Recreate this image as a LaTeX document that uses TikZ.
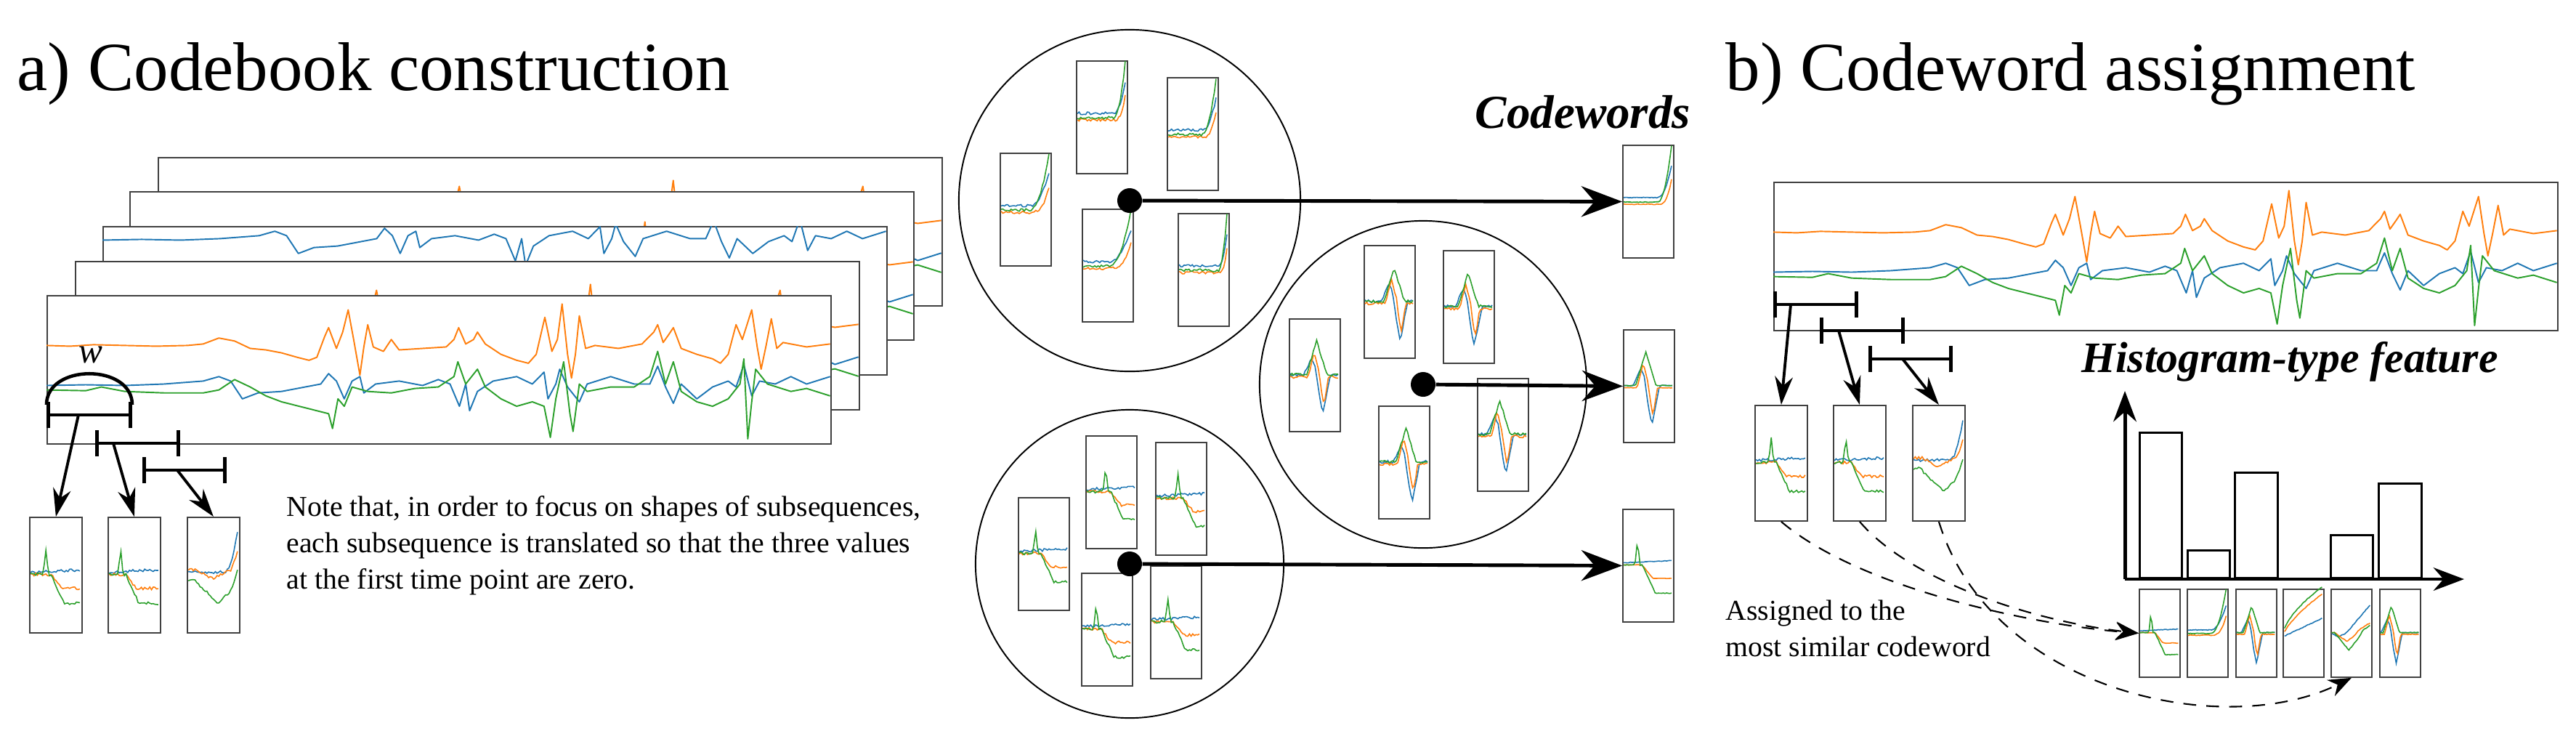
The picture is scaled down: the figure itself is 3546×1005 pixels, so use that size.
\documentclass[tikz,border=0pt]{standalone}
\usepackage{fontspec}
\setmainfont{Liberation Serif}
\usetikzlibrary{arrows.meta}
\definecolor{cB}{HTML}{1F77B4}
\definecolor{cO}{HTML}{FF7F0E}
\definecolor{cG}{HTML}{2CA02C}
\def\nz{0.012}
\def\lsO{(0,0.34)(0.03,0.345)(0.06,0.335)(0.1,0.34)(0.14,0.345)(0.18,0.34)(0.2,0.33)(0.22,0.29)(0.24,0.31)(0.26,0.36)(0.28,0.37)(0.3,0.39)(0.32,0.42)(0.335,0.44)(0.345,0.42)(0.355,0.28)(0.36,0.22)(0.37,0.36)(0.378,0.25)(0.385,0.1)(0.392,0.3)(0.4,0.54)(0.405,0.35)(0.41,0.2)(0.417,0.35)(0.43,0.38)(0.44,0.3)(0.45,0.37)(0.48,0.36)(0.51,0.35)(0.52,0.3)(0.526,0.22)(0.535,0.33)(0.545,0.3)(0.55,0.25)(0.56,0.33)(0.58,0.4)(0.6,0.44)(0.615,0.46)(0.625,0.4)(0.636,0.15)(0.645,0.38)(0.652,0.3)(0.658,0.06)(0.665,0.4)(0.67,0.56)(0.675,0.4)(0.68,0.14)(0.688,0.36)(0.7,0.34)(0.73,0.36)(0.76,0.33)(0.775,0.25)(0.78,0.2)(0.787,0.32)(0.795,0.26)(0.8,0.22)(0.81,0.36)(0.83,0.4)(0.85,0.43)(0.86,0.46)(0.87,0.4)(0.88,0.2)(0.888,0.3)(0.9,0.1)(0.907,0.35)(0.912,0.5)(0.918,0.35)(0.925,0.16)(0.932,0.36)(0.94,0.32)(0.97,0.35)(1,0.33)}
\def\lsB{(0,0.61)(0.05,0.605)(0.1,0.61)(0.15,0.6)(0.2,0.58)(0.22,0.55)(0.235,0.58)(0.25,0.7)(0.27,0.66)(0.3,0.65)(0.33,0.62)(0.35,0.6)(0.36,0.53)(0.37,0.58)(0.38,0.7)(0.39,0.58)(0.4,0.55)(0.405,0.66)(0.42,0.6)(0.45,0.58)(0.48,0.61)(0.5,0.57)(0.515,0.6)(0.527,0.75)(0.535,0.6)(0.54,0.78)(0.55,0.65)(0.57,0.58)(0.6,0.55)(0.62,0.6)(0.635,0.52)(0.64,0.7)(0.65,0.6)(0.655,0.5)(0.665,0.62)(0.68,0.72)(0.69,0.6)(0.72,0.55)(0.75,0.6)(0.77,0.6)(0.78,0.48)(0.79,0.62)(0.8,0.73)(0.81,0.6)(0.83,0.7)(0.85,0.62)(0.87,0.58)(0.88,0.62)(0.89,0.47)(0.9,0.68)(0.91,0.58)(0.93,0.6)(0.95,0.55)(0.97,0.6)(1,0.55)}
\def\lsG{(0,0.64)(0.05,0.645)(0.07,0.62)(0.1,0.65)(0.15,0.66)(0.2,0.66)(0.22,0.64)(0.24,0.57)(0.26,0.62)(0.28,0.68)(0.3,0.72)(0.33,0.76)(0.36,0.8)(0.365,0.9)(0.372,0.7)(0.38,0.75)(0.39,0.62)(0.41,0.65)(0.44,0.66)(0.47,0.63)(0.5,0.62)(0.52,0.55)(0.525,0.45)(0.535,0.6)(0.55,0.5)(0.56,0.62)(0.58,0.7)(0.6,0.75)(0.62,0.72)(0.635,0.75)(0.643,0.96)(0.65,0.7)(0.66,0.45)(0.668,0.8)(0.672,0.92)(0.68,0.6)(0.69,0.65)(0.72,0.62)(0.75,0.62)(0.77,0.55)(0.78,0.38)(0.79,0.6)(0.8,0.45)(0.81,0.65)(0.83,0.72)(0.85,0.75)(0.87,0.7)(0.885,0.6)(0.89,0.43)(0.895,0.97)(0.9,0.72)(0.905,0.5)(0.92,0.6)(0.95,0.65)(0.97,0.63)(1,0.68)}
\newcommand\sgA[1]{%
 \draw[cB,sl] plot (\x,{0.47-0.28*max(0,(\x-#1)/(0.97-#1))^2+\nz*rand});
 \draw[cO,sl] plot (\x,{0.53-0.22*max(0,(\x-#1)/(0.97-#1))^3+\nz*rand});
 \draw[cG,sl] plot (\x,{0.51-0.5*max(0,(\x-#1)/(0.97-#1))^2+\nz*rand});}
\newcommand\sgB[1]{%
 \draw[cB,sl] plot (\x,{0.5-0.15*bp(\x,#1,0.15)+0.35*bp(\x,#1+0.22,0.15)+\nz*rand});
 \draw[cO,sl] plot (\x,{0.52-0.22*bp(\x,#1+0.05,0.12)+0.25*bp(\x,#1+0.24,0.09)+\nz*rand});
 \draw[cG,sl] plot (\x,{0.5-0.3*bp(\x,#1+0.1,0.2)+\nz*rand});}
\newcommand\sgC[1]{%
 \draw[cB,sl] plot (\x,{0.48-0.02*\x+\nz*rand});
 \draw[cO,sl] plot (\x,{0.5+0.12*min(1,max(0,(\x-#1)/0.2))+\nz*rand});
 \draw[cG,sl] plot (\x,{0.5+0.25*min(1,max(0,(\x-#1)/0.25))-0.22*bp(\x,#1-0.1,0.05)+\nz*rand});}
\newcommand\sgD{%
 \draw[cB,sl,domain=0.05:0.97] plot (\x,{0.55-0.22*\x+\nz*rand});
 \draw[cO,sl,domain=0.05:0.97] plot (\x,{0.55-0.5*\x^0.7+\nz*rand});
 \draw[cG,sl,domain=0.05:0.97] plot (\x,{0.55-0.58*\x^0.6+\nz*rand});}
\newcommand\sgE{%
 \draw[cB,sl] plot (\x,{0.5+0.05*bp(\x,0.2,0.2)-0.55*max(0,\x-0.4)+\nz*rand});
 \draw[cO,sl] plot (\x,{0.5+0.1*bp(\x,0.4,0.3)-0.3*max(0,\x-0.6)+\nz*rand});
 \draw[cG,sl] plot (\x,{0.5+0.2*bp(\x,0.45,0.35)-0.3*max(0,\x-0.7)+\nz*rand});}
\newcommand\sgF{%
 \draw[cB,sl] plot (\x,{0.48-0.35*max(0,(\x-0.72)/0.25)^2+\nz*rand});
 \draw[cO,sl] plot (\x,{0.46+0.08*bp(\x,0.5,0.3)-0.15*max(0,(\x-0.85)/0.12)+\nz*rand});
 \draw[cG,sl] plot (\x,{0.55+0.2*bp(\x,0.6,0.45)-0.12*max(0,(\x-0.85)/0.12)+\nz*rand});}
\newcommand\inbox[4]{\begin{scope}[shift={(#1.north west)},x=#2cm,y=-#3cm]#4\end{scope}}
\newcommand\longsig[3]{\begin{scope}\clip (#1.north west) rectangle (#1.south east);
 \begin{scope}[shift={(#1.north west)},x=10.78cm,y=-2.04cm,yshift=#2cm]
 #3
 \end{scope}\end{scope}}
\def\allsig{\draw[cO,ll] plot coordinates {\lsO};
 \draw[cB,ll] plot coordinates {\lsB};
 \draw[cG,ll] plot coordinates {\lsG};}
\begin{document}
\pgfmathsetseed{7}
\begin{tikzpicture}[x=0.01cm,y=-0.01cm,
 declare function={bp(\t,\c,\w)=max(0,1-abs(\t-\c)/\w);},
 sl/.style={line width=0.45pt,domain=0.03:0.97,samples=30},
 ll/.style={line width=0.55pt,line join=round},
 frame/.style={draw=black!75,line width=0.55pt,fill=white,minimum width=10.78cm,minimum height=2.04cm,inner sep=0,anchor=north west},
 sbox/.style={draw=black!75,line width=0.5pt,minimum width=0.7cm,minimum height=1.55cm,inner sep=0,anchor=north west},
 abox/.style={draw=black!75,line width=0.5pt,minimum width=0.72cm,minimum height=1.59cm,inner sep=0,anchor=north west},
 hbox/.style={draw=black!75,line width=0.5pt,minimum width=0.56cm,minimum height=1.21cm,inner sep=0,anchor=north west},
 hbar/.style={line width=1.3pt,{Bar[width=10pt]}-{Bar[width=10pt]}},
 sarr/.style={line width=1.1pt,-{Stealth[length=11pt,width=7pt]}},
 carr/.style={line width=1.4pt,-{Stealth[length=16pt,width=12pt]}},
 darr/.style={line width=0.6pt,dash pattern=on 5pt off 4pt,-{Stealth[length=9pt,width=7pt]}},
 circ/.style={draw,line width=0.55pt,circle,inner sep=0},
 dot/.style={circle,fill,inner sep=0,minimum size=0.34cm},
 bar/.style={draw,line width=0.8pt,inner sep=0,anchor=south west},
 ttl/.style={font=\fontsize{27}{30}\selectfont,anchor=base west,inner sep=0},
 txt/.style={font=\fontsize{11.3}{14.2}\selectfont,anchor=base west,inner sep=0,align=left},
 bit/.style={font=\bfseries\itshape,anchor=base west,inner sep=0}]
\useasboundingbox (0,0) rectangle (3546,1005);
% titles
\node[ttl] (ta) at (23,124) {a) Codebook construction};
\node[ttl] (tb) at (2375,124) {b) Codeword assignment};
% stacked frames
\node[frame] (f0) at (217,216) {}; \longsig{f0}{-0.2}{\allsig}
\node[frame] (f1) at (178,263) {}; \longsig{f1}{-0.3}{\allsig}
\node[frame] (f2) at (141,311) {}; \longsig{f2}{1.05}{\draw[cB,ll] plot coordinates {\lsB};}
\node[frame] (f3) at (103,359) {}; \longsig{f3}{-0.2}{\allsig}
\node[frame] (f4) at (64,406) {}; \longsig{f4}{0}{\allsig}
% window
\draw[line width=1.3pt] (64,557) .. controls (64,500) and (182,500) .. (182,557);
\node[font=\fontsize{14}{14}\selectfont\itshape] (w) at (125,488) {w};
\draw[hbar] (64,571) -- (182,571); \coordinate (s1) at (108,571);
\draw[hbar] (131,610) -- (248,610); \coordinate (s2) at (156,610);
\draw[hbar] (196,647) -- (312,647); \coordinate (s3) at (244,647);
\node[abox] (a1) at (40,711) {}; \inbox{a1}{0.72}{1.59}{\sgC{0.42}}
\node[abox] (a2) at (148,711) {}; \inbox{a2}{0.72}{1.59}{\sgC{0.35}}
\node[abox] (a3) at (257,711) {}; \inbox{a3}{0.72}{1.59}{\sgF}
\draw[sarr] (s1) -- (a1.north);
\draw[sarr] (s2) -- (a2.north);
\draw[sarr] (s3) -- (a3.north);
\node[txt] (note) at (394,810) {Note that, in order to focus on shapes of subsequences,\\each subsequence is translated so that the three values\\at the first time point are zero.};
% clusters
\node[circ,minimum size=4.7cm] (k1) at (1555,276) {};
\node[circ,minimum size=4.5cm] (k2) at (1959,529) {};
\node[circ,minimum size=4.24cm] (k3) at (1555,776) {};
\node[sbox] (b11) at (1376,210) {}; \inbox{b11}{0.7}{1.55}{\sgA{0.6}}
\node[sbox] (b12) at (1481,83) {}; \inbox{b12}{0.7}{1.55}{\sgA{0.75}}
\node[sbox] (b13) at (1606,106) {}; \inbox{b13}{0.7}{1.55}{\sgA{0.7}}
\node[sbox] (b14) at (1489,287) {}; \inbox{b14}{0.7}{1.55}{\sgA{0.55}}
\node[sbox] (b15) at (1621,293) {}; \inbox{b15}{0.7}{1.55}{\sgA{0.8}}
\node[sbox] (b21) at (1774,438) {}; \inbox{b21}{0.7}{1.55}{\sgB{0.45}}
\node[sbox] (b22) at (1877,337) {}; \inbox{b22}{0.7}{1.55}{\sgB{0.5}}
\node[sbox] (b23) at (1986,344) {}; \inbox{b23}{0.7}{1.55}{\sgB{0.4}}
\node[sbox] (b24) at (1897,558) {}; \inbox{b24}{0.7}{1.55}{\sgB{0.45}}
\node[sbox] (b25) at (2033,520) {}; \inbox{b25}{0.7}{1.55}{\sgB{0.35}}
\node[sbox] (b31) at (1401,684) {}; \inbox{b31}{0.7}{1.55}{\sgC{0.45}}
\node[sbox] (b32) at (1494,599) {}; \inbox{b32}{0.7}{1.55}{\sgC{0.5}}
\node[sbox] (b33) at (1590,608) {}; \inbox{b33}{0.7}{1.55}{\sgC{0.55}}
\node[sbox] (b34) at (1488,788) {}; \inbox{b34}{0.7}{1.55}{\sgC{0.4}}
\node[sbox] (b35) at (1583,778) {}; \inbox{b35}{0.7}{1.55}{\sgC{0.45}}
\node[dot] (d1) at (k1.center) {};
\node[dot] (d2) at (k2.center) {};
\node[dot] (d3) at (k3.center) {};
\node[bit,font=\fontsize{18.5}{20}\selectfont\bfseries\itshape] (cwt) at (2030,176) {Codewords};
\def\nz{0.003}
\node[sbox] (c1) at (2233,199) {}; \inbox{c1}{0.7}{1.55}{\sgA{0.7}}
\node[sbox] (c2) at (2234,453) {}; \inbox{c2}{0.7}{1.55}{\sgB{0.35}}
\node[sbox] (c3) at (2233,700) {}; \inbox{c3}{0.7}{1.55}{\sgC{0.4}}
\draw[carr] (d1) -- (c1.west);
\draw[carr] (d2) -- (c2.west);
\draw[carr] (d3) -- (c3.west);
% b) part
\def\nz{0.012}
\node[frame] (g) at (2441,250) {}; \longsig{g}{0}{\allsig}
\draw[hbar] (2441,419) -- (2558,419); \coordinate (t1) at (2465,419);
\draw[hbar] (2505,455) -- (2622,455); \coordinate (t2) at (2531,455);
\draw[hbar] (2572,494) -- (2688,494); \coordinate (t3) at (2619,494);
\node[abox] (e1) at (2415,557) {}; \inbox{e1}{0.72}{1.59}{\sgC{0.42}}
\node[abox] (e2) at (2523,557) {}; \inbox{e2}{0.72}{1.59}{\sgC{0.35}}
\node[abox] (e3) at (2632,557) {}; \inbox{e3}{0.72}{1.59}{\sgF}
\draw[sarr] (t1) -- (e1.north);
\draw[sarr] (t2) -- (e2.north);
\draw[sarr] (t3) -- (e3.north);
\node[bit,font=\fontsize{17}{20}\selectfont\bfseries\itshape] (hft) at (2865,512) {Histogram-type feature};
\coordinate (o) at (2925,797);
\coordinate (ya) at (2925,538);
\coordinate (xa) at (3392,797);
\node[bar,minimum width=0.58cm,minimum height=2.0cm] (r1) at (2944,797) {};
\node[bar,minimum width=0.58cm,minimum height=0.38cm] (r2) at (3010,797) {};
\node[bar,minimum width=0.59cm,minimum height=1.45cm] (r3) at (3075,797) {};
\node[bar,minimum width=0.58cm,minimum height=0.59cm] (r5) at (3207,797) {};
\node[bar,minimum width=0.59cm,minimum height=1.30cm] (r6) at (3273,797) {};
\draw[line width=1.4pt,-{Stealth[length=12pt,width=9pt]}] (o) -- (ya);
\draw[line width=1.4pt,-{Stealth[length=12pt,width=9pt]}] (o) -- (xa);
\def\nz{0.004}
\node[hbox] (h1) at (2944,810) {}; \inbox{h1}{0.56}{1.21}{\sgC{0.4}}
\node[hbox] (h2) at (3010,810) {}; \inbox{h2}{0.56}{1.21}{\sgA{0.6}}
\node[hbox] (h3) at (3077,810) {}; \inbox{h3}{0.56}{1.21}{\sgB{0.3}}
\node[hbox] (h4) at (3142,810) {}; \inbox{h4}{0.56}{1.21}{\sgD}
\node[hbox] (h5) at (3208,810) {}; \inbox{h5}{0.56}{1.21}{\sgE}
\node[hbox] (h6) at (3275,810) {}; \inbox{h6}{0.56}{1.21}{\sgB{0.2}}
\draw[darr] (e1.south) .. controls (2560,810) and (2800,860) .. (h1.west);
\draw[darr] (e2.south) .. controls (2630,800) and (2800,855) .. (h1.west);
\draw[darr] (e3.south) .. controls (2740,950) and (3060,1020) .. (h5.south);
\node[txt] (asg) at (2375,903) {Assigned to the\\most similar codeword};
\end{tikzpicture}
\end{document}
